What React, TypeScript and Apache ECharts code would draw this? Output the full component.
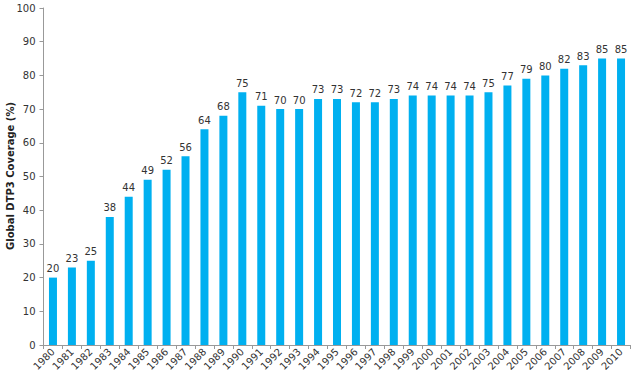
import React, { useEffect, useRef } from "react";
import * as echarts from "echarts";

const years = ["1980","1981","1982","1983","1984","1985","1986","1987","1988","1989","1990","1991","1992","1993","1994","1995","1996","1997","1998","1999","2000","2001","2002","2003","2004","2005","2006","2007","2008","2009","2010"];
const coverage = [20,23,25,38,44,49,52,56,64,68,75,71,70,70,73,73,72,72,73,74,74,74,74,75,77,79,80,82,83,85,85];
const yTitle = "Global DTP3 Coverage (%)";

export default function App() {
  const ref = useRef<HTMLDivElement>(null);
  useEffect(() => {
    const chart = echarts.init(ref.current!, null, { renderer: "svg" });
    const font = "DejaVu Sans, Verdana, sans-serif";
    chart.setOption({
      animation: false,
      grid: { left: 43.5, right: 1.5, top: 8, bottom: 33, containLabel: false, outerBoundsMode: "none" },
      xAxis: {
        type: "category",
        data: years,
        axisLine: { lineStyle: { color: "#999" } },
        axisTick: { show: true, length: 4, lineStyle: { color: "#999" } },
        axisLabel: { rotate: 45, fontSize: 10, color: "#333", fontFamily: font, margin: 5, interval: 0 },
      },
      yAxis: {
        type: "value",
        min: 0,
        max: 100,
        interval: 10,
        axisLine: { show: true, lineStyle: { color: "#999" } },
        axisTick: { show: true, length: 4, lineStyle: { color: "#999" } },
        splitLine: { show: false },
        axisLabel: { fontSize: 10, color: "#333", fontFamily: font, margin: 8 },
      },
      graphic: [
        {
          type: "text",
          x: 10,
          y: 176,
          rotation: Math.PI / 2,
          style: {
            text: yTitle,
            fontSize: 10,
            fontWeight: "bold",
            fill: "#222",
            fontFamily: font,
            align: "center",
            verticalAlign: "middle",
          },
        },
      ],
      series: [
        {
          type: "bar",
          data: coverage,
          barWidth: 8,
          itemStyle: { color: "#00B0F0" },
          label: { show: true, position: "top", fontSize: 10, color: "#333", fontFamily: font, distance: 4 },
        },
      ],
    });
    return () => chart.dispose();
  }, []);
  return <div ref={ref} style={{ width: 632, height: 378, position: "absolute", left: 0, top: 0 }} />;
}
